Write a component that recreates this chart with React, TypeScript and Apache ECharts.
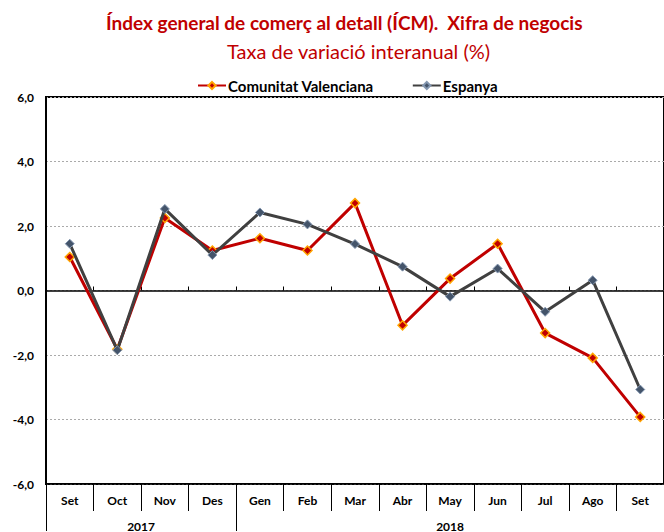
import React, { useEffect, useRef } from "react";
import * as echarts from "echarts";

const months = ["Set", "Oct", "Nov", "Des", "Gen", "Feb", "Mar", "Abr", "May", "Jun", "Jul", "Ago", "Set"];
const years = ["2017", "2018"];
const monthsPerYear = [4, 9];
const valenciana = [1.04, -1.82, 2.25, 1.24, 1.62, 1.24, 2.71, -1.08, 0.37, 1.45, -1.32, -2.09, -3.92];
const espanya = [1.45, -1.85, 2.53, 1.1, 2.42, 2.05, 1.44, 0.74, -0.19, 0.68, -0.66, 0.32, -3.07];
const yMin = -6;
const yMax = 6;
const yStep = 2;

const FONT = "Lato";

export default function App() {
  const ref = useRef<HTMLDivElement>(null);
  useEffect(() => {
    if (!ref.current) return;
    const chart = echarts.init(ref.current, undefined, { renderer: "svg" });
    const bounds: number[] = [0];
    monthsPerYear.forEach((n) => bounds.push(bounds[bounds.length - 1] + n));
    const centers = monthsPerYear.map((n, i) => bounds[i] + n / 2);
    const fmt = (v: number) => v.toFixed(1).replace(".", ",");
    chart.setOption({
      animation: false,
      title: [
        {
          text: "Índex general de comerç al detall (ÍCM).  Xifra de negocis",
          left: 101,
          top: 8,
          textStyle: { fontFamily: FONT, fontSize: 19, fontWeight: "bold", color: "#C00000" },
        },
        {
          text: "Taxa de variació interanual (%)",
          left: 222,
          top: 36,
          textStyle: { fontFamily: FONT, fontSize: 20, fontWeight: "normal", color: "#C00000" },
        },
      ],
      legend: {
        left: 192,
        top: 73,
        itemWidth: 28,
        itemHeight: 9,
        itemGap: 38,
        data: ["Comunitat Valenciana", "Espanya"],
        textStyle: { fontFamily: FONT, fontSize: 15, fontWeight: "bold", color: "#000", padding: [0, 0, 0, -3] },
      },
      grid: {
        left: 46,
        top: 97,
        right: -10,
        bottom: 45,
        show: true,
        borderColor: "#000",
        borderWidth: 2,
      },
      xAxis: [
        {
          type: "category",
          data: months,
          position: "bottom",
          boundaryGap: true,
          axisLine: { onZero: false, lineStyle: { color: "#000", width: 1.5 } },
          axisTick: { show: true, interval: 0, length: 27, lineStyle: { color: "#000", width: 1 } },
          axisLabel: {
            interval: 0,
            margin: 10,
            fontFamily: FONT,
            fontSize: 12,
            fontWeight: "bold",
            color: "#000",
          },
          splitLine: { show: false },
        },
        {
          type: "category",
          data: months,
          position: "bottom",
          boundaryGap: true,
          axisLine: { onZero: true, onZeroAxisIndex: 0, lineStyle: { color: "#000", width: 1.5 } },
          axisTick: { show: true, inside: true, interval: 0, length: 4, lineStyle: { color: "#000", width: 1 } },
          axisLabel: { show: false },
          splitLine: { show: false },
        },
        {
          type: "value",
          min: 0,
          max: bounds[bounds.length - 1],
          position: "bottom",
          offset: 27,
          axisLine: { show: false, onZero: false },
          axisTick: {
            show: true,
            length: 20,
            customValues: bounds.slice(0, -1),
            lineStyle: { color: "#000", width: 1 },
          },
          axisLabel: {
            customValues: centers,
            margin: 9,
            fontFamily: FONT,
            fontSize: 12,
            fontWeight: "bold",
            color: "#000",
            formatter: (v: number) => {
              const i = centers.indexOf(v);
              return i >= 0 ? years[i] : "";
            },
          },
          splitLine: { show: false },
        },
      ],
      yAxis: {
        type: "value",
        min: yMin,
        max: yMax,
        interval: yStep,
        axisLine: { show: true, onZero: false, lineStyle: { color: "#000", width: 2 } },
        axisTick: { show: false },
        axisLabel: {
          formatter: fmt,
          margin: 12,
          fontFamily: FONT,
          fontSize: 12,
          fontWeight: "bold",
          color: "#000",
        },
        splitLine: { show: true, lineStyle: { color: "#aaa", type: [2, 2], width: 1 } },
      },
      series: [
        {
          name: "Comunitat Valenciana",
          type: "line",
          xAxisIndex: 0,
          data: valenciana,
          symbol: "diamond",
          symbolSize: 9,
          z: 3,
          lineStyle: { color: "#C00000", width: 3 },
          itemStyle: { color: "#C00000", borderColor: "#FFA500", borderWidth: 1.5 },
        },
        {
          name: "Espanya",
          type: "line",
          xAxisIndex: 0,
          data: espanya,
          symbol: "diamond",
          symbolSize: 9,
          z: 4,
          lineStyle: { color: "#404040", width: 3 },
          itemStyle: { color: "#44546A", borderColor: "#8497B0", borderWidth: 1 },
        },
      ],
    });
    return () => chart.dispose();
  }, []);
  return (
    <div
      ref={ref}
      style={{ position: "fixed", left: 0, top: 0, width: 664, height: 532, background: "#fff" }}
    />
  );
}
